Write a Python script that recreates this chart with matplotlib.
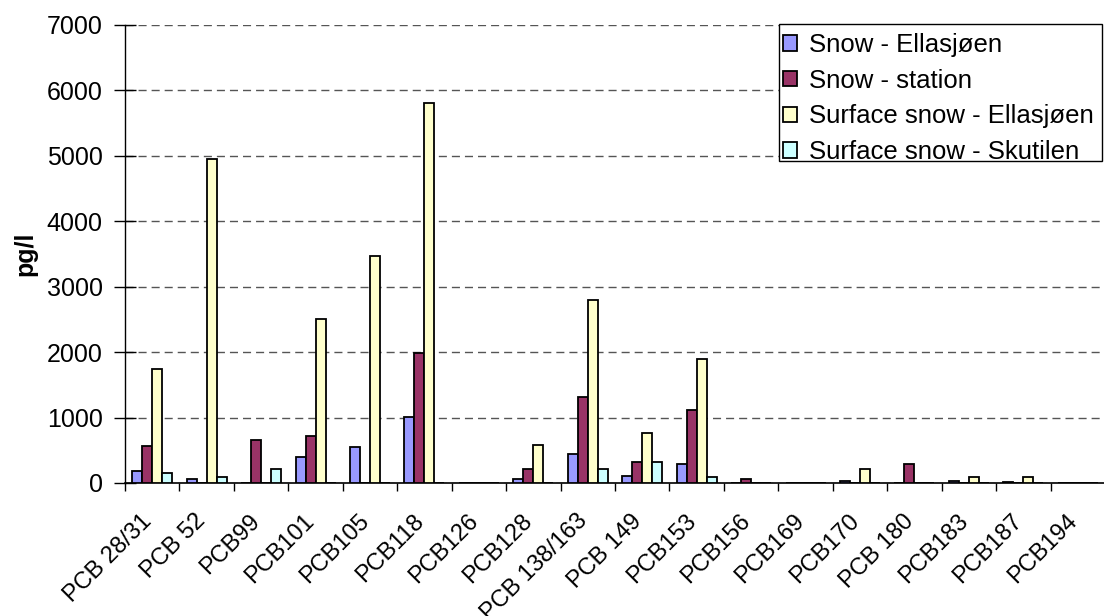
import matplotlib
matplotlib.use("Agg")
import matplotlib.pyplot as plt
import matplotlib.transforms as mtransforms
from matplotlib.patches import Rectangle
import numpy as np

categories = ["PCB 28/31", "PCB 52", "PCB99", "PCB101", "PCB105", "PCB118", "PCB126",
              "PCB128", "PCB 138/163", "PCB 149", "PCB153", "PCB156", "PCB169", "PCB170",
              "PCB 180", "PCB183", "PCB187", "PCB194"]
snow_ellasjoen = [185, 66, 0, 390, 550, 1010, 0, 62, 440, 103, 287, 0, 0, 35, 0, 26, 20, 0]
snow_station = [570, 0, 656, 718, 0, 1990, 0, 210, 1310, 323, 1118, 57, 0, 0, 292, 0, 0, 0]
surface_ellasjoen = [1750, 4950, 0, 2510, 3470, 5810, 0, 580, 2790, 760, 1890, 0, 0, 215, 0, 88, 88, 0]
surface_skutilen = [155, 97, 215, 0, 0, 0, 0, 0, 210, 328, 97, 0, 0, 0, 0, 0, 0, 0]
series_names = ["Snow - Ellasjøen", "Snow - station", "Surface snow - Ellasjøen", "Surface snow - Skutilen"]
series_colors = ["#9999FF", "#993366", "#FFFFCC", "#CCFFFF"]
yticks = [0, 1000, 2000, 3000, 4000, 5000, 6000, 7000]

plt.rcParams['font.family'] = ['Liberation Sans', 'DejaVu Sans']
FS = 18

fig = plt.figure(figsize=(11.04, 6.16), dpi=100)
ax = fig.add_axes([125/1104, 1 - 483/616, (1105-125)/1104, (483-25)/616])

series = [snow_ellasjoen, snow_station, surface_ellasjoen, surface_skutilen]
n = len(categories)
x = np.arange(n)
w = 10/54.5
for i, (vals, name, col) in enumerate(zip(series, series_names, series_colors)):
    ax.bar(x + (i - 1.5) * w, vals, width=w, color=col, edgecolor='black',
           linewidth=1.3, label=name, zorder=3)

ax.set_xlim(-0.5, n - 0.5)
ax.set_ylim(0, 7000)
ax.set_yticks(yticks)
ax.set_yticklabels([str(t) for t in yticks], fontsize=FS)
ax.yaxis.grid(True, linestyle=(0, (5.8, 3.6)), color='#555555', linewidth=1, zorder=0)
ax.set_axisbelow(True)

ax.set_xticks(np.arange(n + 1) - 0.5)
ax.set_xticklabels([])
ax.tick_params(axis='x', which='major', length=6, width=1, direction='out')
ax.tick_params(axis='y', length=16, width=1, direction='inout', pad=8)

base = mtransforms.blended_transform_factory(ax.transData, ax.transAxes)
off = mtransforms.ScaledTranslation(-12/100, -27/100, fig.dpi_scale_trans)
for xi, lab in zip(x, categories):
    ax.text(xi, 0, lab, transform=base + off, rotation=45, ha='right', va='top',
            rotation_mode='anchor', fontsize=17, clip_on=False)

for s in ['top', 'right']:
    ax.spines[s].set_visible(False)
ax.spines['left'].set_linewidth(1)
ax.spines['bottom'].set_linewidth(1.2)

fig.text(25/1104, 1 - 254/616, 'pg/l', fontsize=FS, fontweight='bold', rotation=90,
         ha='center', va='center')

# legend frame
frame = Rectangle((779/1104, 1 - 161/616), (1102-779)/1104, (161-24)/616,
                  transform=fig.transFigure, facecolor='white', edgecolor='black',
                  linewidth=1, clip_on=False, zorder=4)
ax.add_patch(frame)
leg = ax.legend(loc='upper left', bbox_to_anchor=(779/1104, 1 - 29/616),
                bbox_transform=fig.transFigure, fontsize=18.5, frameon=False,
                handlelength=0.56, handleheight=0.56, handletextpad=0.45,
                borderpad=0.15, labelspacing=0.46, borderaxespad=0)
leg.set_zorder(5)

fig.savefig('out.png', dpi=100)
